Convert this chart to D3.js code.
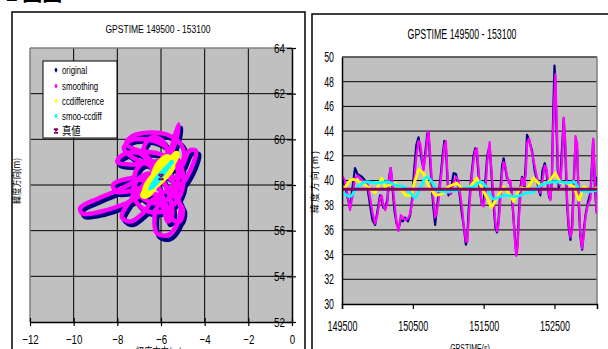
<!DOCTYPE html>
<html><head><meta charset="utf-8">
<script src="https://cdn.jsdelivr.net/npm/d3@7"></script>
<style>
html,body{margin:0;padding:0;background:#fff;overflow:hidden}
svg{display:block}
text{font-family:"Liberation Sans",Arial,sans-serif;fill:#000}
.cjk{font-family:"Noto Sans CJK JP","Noto Sans CJK SC",sans-serif}
</style></head>
<body>
<svg id="c" width="608" height="349"></svg>
<script>
// ---------------- DATA ----------------
const chartTitle = "GPSTIME 149500 - 153100";
const seriesNames = ["original", "smoothing", "ccdifference", "smoo-ccdiff", "真値"];
const seriesColors = ["#000080", "#ff00ff", "#ffff00", "#00ffff", "#800060"];

// Left chart (scatter: longitude-direction x, latitude-direction y)
const xTicksLeft = [-12, -10, -8, -6, -4, -2, 0];
const yTicksLeft = [52, 54, 56, 58, 60, 62, 64];
const originalPts = [
 [-5.88,58.25],[-6.38,58.95],[-6.98,58.55],[-7.08,57.85],[-6.7,57.25],[-5.88,57.05],[-5.28,57.55],[-5.06,58.35],
 [-5.38,58.95],[-6.08,59.25],[-6.88,59.35],[-7.5,59.65],[-7.18,60.0],[-6.38,60.15],[-5.58,60.05],[-4.96,59.65],
 [-4.82,59.05],[-5.18,58.65],[-5.88,58.55],[-6.78,58.15],[-7.78,57.65],[-8.78,57.25],[-9.58,56.85],[-9.48,56.6],
 [-8.58,56.7],[-7.48,57.05],[-6.58,57.45],[-5.98,57.35],[-6.18,56.45],[-6.08,55.72],[-5.58,55.62],[-5.16,56.05],
 [-4.96,56.85],[-5.18,57.55],[-4.78,58.05],[-4.36,58.85],[-4.26,59.35],[-4.58,59.35],[-4.88,58.75],[-5.28,58.15],
 [-5.58,58.65],[-5.38,59.55],[-5.08,60.5],[-5.18,59.85],[-5.58,59.05],[-6.38,58.85],[-7.28,58.75],[-7.88,58.85],
 [-7.68,59.15],[-6.88,59.25],[-6.28,58.45],[-6.78,57.75],[-7.38,57.05],[-7.68,56.45],[-7.28,56.25],[-6.68,56.65],
 [-6.18,57.25],[-5.78,56.85],[-5.58,56.25],[-5.38,56.45],[-5.48,57.35],[-5.78,58.05],[-5.9,58.28],
 [-6.5,58.78],[-7.2,59.08],[-7.6,59.48],[-7.3,59.83],[-6.6,59.88],[-5.9,59.68],[-5.3,59.18],[-4.9,58.38],
 [-5.0,57.48],[-5.5,56.88],[-6.3,56.68],[-6.9,56.98],[-7.2,57.58],[-6.9,58.18],[-6.3,58.38],
 [-5.7,57.88],[-5.2,57.28],[-4.9,56.78],[-5.05,56.28],[-5.4,56.38],[-5.7,57.08],[-6.0,57.78],
 [-6.3,58.78],[-6.7,59.48],[-6.3,59.98],[-5.8,59.78],[-5.6,59.18],[-5.8,58.58],
 [-6.5,58.08],[-7.3,58.18],[-8.1,57.88],[-7.9,57.58],[-7.1,57.68],[-6.3,57.98],
 [-5.7,58.28],[-5.3,57.88],[-5.8,57.58],[-6.2,58.08],[-5.9,58.28]
];
const smoothingPts = [
 [-6.0,58.4],[-6.5,59.1],[-7.1,58.7],[-7.2,58.0],[-6.8,57.4],[-6.0,57.2],[-5.4,57.7],[-5.2,58.5],
 [-5.5,59.1],[-6.2,59.4],[-7.0,59.5],[-7.6,59.8],[-7.3,60.15],[-6.5,60.3],[-5.7,60.2],[-5.1,59.8],
 [-4.95,59.2],[-5.3,58.8],[-6.0,58.7],[-6.9,58.3],[-7.9,57.8],[-8.9,57.4],[-9.7,57.0],[-9.6,56.75],
 [-8.7,56.85],[-7.6,57.2],[-6.7,57.6],[-6.1,57.5],[-6.3,56.6],[-6.2,55.9],[-5.7,55.8],[-5.3,56.2],
 [-5.1,57.0],[-5.3,57.7],[-4.9,58.2],[-4.5,59.0],[-4.4,59.5],[-4.7,59.5],[-5.0,58.9],[-5.4,58.3],
 [-5.7,58.8],[-5.5,59.7],[-5.2,60.65],[-5.3,60.0],[-5.7,59.2],[-6.5,59.0],[-7.4,58.9],[-8.0,59.0],
 [-7.8,59.3],[-7.0,59.4],[-6.4,58.6],[-6.9,57.9],[-7.5,57.2],[-7.8,56.6],[-7.4,56.4],[-6.8,56.8],
 [-6.3,57.4],[-5.9,57.0],[-5.7,56.4],[-5.5,56.6],[-5.6,57.5],[-5.9,58.2],[-6.0,58.4],
 [-6.6,58.9],[-7.3,59.2],[-7.7,59.6],[-7.4,59.95],[-6.7,60.0],[-6.0,59.8],[-5.4,59.3],[-5.0,58.5],
 [-5.1,57.6],[-5.6,57.0],[-6.4,56.8],[-7.0,57.1],[-7.3,57.7],[-7.0,58.3],[-6.4,58.5],
 [-5.8,58.0],[-5.3,57.4],[-5.0,56.9],[-5.15,56.4],[-5.5,56.5],[-5.8,57.2],[-6.1,57.9],
 [-6.4,58.9],[-6.8,59.6],[-6.4,60.1],[-5.9,59.9],[-5.7,59.3],[-5.9,58.7],
 [-6.6,58.2],[-7.4,58.3],[-8.2,58.0],[-8.0,57.7],[-7.2,57.8],[-6.4,58.1],
 [-5.8,58.4],[-5.4,58.0],[-5.9,57.7],[-6.3,58.2],[-6.0,58.4]
];
const ccdiffPts = [
 [-6.0,58.4],[-6.5,58.0],[-6.8,57.55],[-6.6,57.6],[-6.2,58.1],[-5.8,58.6],[-5.4,59.1],[-5.3,59.35],
 [-5.6,59.0],[-6.0,58.6],[-6.4,58.3],[-6.7,57.8],[-6.4,57.9],[-5.9,58.3],[-5.5,58.8],[-5.7,59.2],
 [-6.1,58.9],[-6.3,58.5]
];
const smooCcdiffPts = [
 [-6.0,58.4],[-6.3,58.1],[-6.5,57.85],[-6.3,58.0],[-5.9,58.5],[-5.6,58.9],[-5.5,59.0],[-5.7,58.8],
 [-6.1,58.4],[-6.4,58.0]
];
const truePt = [-6.0, 58.35];

// Right chart (time series of latitude direction)
const xTicksRight = [149500, 150500, 151500, 152500];
const yTicksRight = [30, 32, 34, 36, 38, 40, 42, 44, 46, 48, 50];
const times = [149500,149540,149580,149613,149650,149684,149720,149780,149825,149860,149896,149930,149967,150000,150037,150060,150084,150110,150141,150165,150188,150210,150240,150270,150297,150330,150360,150391,150430,150462,150490,150520,150550,150580,150605,150627,150650,150680,150705,150721,150745,150768,150790,150815,150840,150862,150890,150920,150945,150966,150985,151004,151040,151075,151110,151145,151169,151195,151216,151249,151270,151287,151320,151357,151380,151404,151440,151475,151500,151522,151550,151584,151610,151640,151665,151688,151710,151735,151760,151782,151805,151829,151855,151876,151895,151914,151940,151961,151980,151994,152020,152041,152060,152074,152095,152112,152140,152183,152220,152253,152280,152300,152330,152362,152385,152404,152425,152442,152462,152480,152500,152512,152530,152545,152560,152580,152605,152630,152655,152678,152700,152725,152750,152772,152796,152820,152843,152865,152890,152915,152937,152970,153008,153030,153046,153070,153093,153100];
const originalY = [40.0,39.6,38.6,37.8,39.5,41.0,40.5,40.3,40.0,39.4,38.0,36.8,36.4,37.5,38.8,38.4,37.8,37.7,38.5,40.3,41.0,39.6,37.6,36.5,36.1,36.8,36.7,37.0,36.7,37.2,38.5,41.0,42.9,43.5,42.5,41.6,41.0,42.5,43.8,43.9,41.5,39.5,37.8,36.4,37.8,38.8,40.2,42.0,43.2,42.8,40.5,38.8,39.4,40.6,40.5,39.5,38.5,37.2,36.4,34.8,35.5,37.5,40.0,42.0,42.6,42.2,39.5,38.0,38.2,39.8,42.0,42.8,40.5,38.0,36.2,35.8,36.8,39.0,41.2,41.8,41.0,40.2,40.0,39.8,39.0,37.5,35.5,34.0,35.0,37.0,39.5,40.3,40.0,39.4,41.5,43.7,43.3,42.4,40.8,40.0,39.2,38.8,40.8,41.4,40.8,39.6,38.6,38.5,40.0,45.0,49.3,48.0,44.0,41.0,39.4,40.0,42.5,45.0,42.0,38.0,36.2,35.2,36.5,40.0,43.0,42.5,38.0,35.5,34.4,36.0,37.2,38.2,39.0,41.5,43.3,39.5,37.5,40.3];
const smoothingY = [40.4,40.0,38.8,37.6,38.8,40.2,40.4,40.0,39.9,39.8,38.6,37.4,36.5,37.2,38.6,38.8,38.0,37.6,38.2,40.0,41.0,39.9,38.2,36.6,35.9,37.2,37.0,36.8,36.9,37.3,38.2,40.0,42.0,43.2,43.0,42.0,40.8,42.0,43.5,44.0,42.2,40.0,38.5,37.0,37.5,38.3,39.8,41.5,42.8,43.2,41.0,39.0,38.9,39.8,40.3,40.0,38.9,37.8,36.5,35.1,35.0,36.8,39.6,41.6,42.4,42.6,40.0,38.0,37.9,38.8,41.5,43.1,40.8,38.6,36.6,35.9,36.4,38.4,40.6,41.5,41.2,40.4,39.8,40.0,39.2,37.8,35.2,33.9,34.6,36.6,38.8,40.2,40.0,39.6,40.5,43.0,43.4,42.2,41.2,40.2,39.6,39.0,40.0,41.2,41.0,40.2,38.8,38.4,39.8,44.0,47.0,48.6,45.0,41.8,39.8,39.6,41.5,45.1,43.0,38.5,36.5,35.4,36.0,39.2,43.6,43.0,38.6,35.8,34.5,35.6,37.0,38.0,38.5,41.0,43.4,40.5,37.4,38.0];
const ccTimes = [149500,149560,149613,149660,149750,149820,149896,149967,150060,150110,150250,150300,150400,150490,150510,150580,150650,150720,150815,150910,151000,151120,151216,151310,151404,151475,151546,151610,151688,151782,151876,151923,152018,152112,152206,152300,152420,152512,152583,152678,152772,152843,152914,153008,153100];
const ccdiffY = [39.0,39.6,40.0,40.1,39.9,39.7,39.3,39.0,40.2,39.5,39.8,39.5,38.8,38.8,39.6,40.9,40.6,39.6,38.8,38.9,39.5,39.8,39.2,39.5,40.2,39.4,38.6,37.8,38.6,39.5,38.8,38.3,39.4,39.3,40.2,39.6,39.9,40.6,39.8,39.8,39.5,38.4,39.5,39.2,39.4];
const scTimes = [149500,149613,149707,149849,149990,150132,150273,150367,150462,150533,150603,150698,150768,150839,150980,151122,151263,151357,151452,151546,151640,151735,151829,151923,152018,152112,152206,152300,152395,152489,152583,152678,152772,152867,152961,153100];
const smooCcdiffY = [39.1,38.7,39.4,39.9,39.8,39.9,39.6,39.5,39.0,38.6,39.4,40.3,39.9,39.2,39.1,39.2,39.4,39.5,39.9,39.4,38.5,38.7,38.8,38.7,38.8,39.0,39.1,39.6,39.8,39.9,39.9,39.8,39.9,39.2,39.1,39.2];
const trueValueY = 39.3;

// ---------------- DRAW ----------------
const svg = d3.select("#c");
function squish(sel, f){
  sel.each(function(){
    const w = this.getComputedTextLength();
    if (w > 0){ this.setAttribute("textLength", (w*f).toFixed(1)); this.setAttribute("lengthAdjust","spacingAndGlyphs"); }
  });
}

// heading fragment at top-left (clipped by the window)
svg.append("text").attr("class","cjk").attr("x",6).attr("y",1)
  .style("font-size","20px").style("font-weight","bold").text("2 図図");

// ===== LEFT CHART =====
svg.append("rect").attr("x",12).attr("y",12).attr("width",293).attr("height",360)
  .attr("fill","#fff").attr("stroke","#000").attr("stroke-width",1.5);
const lt = svg.append("text").attr("x",158).attr("y",33).attr("text-anchor","middle")
  .style("font-size","11.5px").text(chartTitle);
squish(lt, 0.74);

const xL = d3.scaleLinear().domain([-12,0]).range([30,292]);
const yL = d3.scaleLinear().domain([52,64]).range([322,48]);
const gL = svg.append("g");
gL.append("rect").attr("x",xL(-12)).attr("y",yL(64)).attr("width",xL(0)-xL(-12)).attr("height",yL(52)-yL(64))
  .attr("fill","#c0c0c0");
gL.selectAll(".vg").data(xTicksLeft.slice(1,-1)).join("line")
  .attr("x1",d=>xL(d)).attr("x2",d=>xL(d)).attr("y1",yL(64)).attr("y2",yL(52)).attr("stroke","#000").attr("stroke-width",1);
gL.selectAll(".hg").data(yTicksLeft.slice(1,-1)).join("line")
  .attr("x1",xL(-12)).attr("x2",xL(0)).attr("y1",d=>yL(d)).attr("y2",d=>yL(d)).attr("stroke","#000").attr("stroke-width",1);
gL.append("line").attr("x1",xL(-12)).attr("x2",xL(-12)).attr("y1",yL(64)).attr("y2",yL(52)).attr("stroke","#808080").attr("stroke-width",1.5);
gL.append("line").attr("x1",xL(-12)).attr("x2",xL(0)).attr("y1",yL(64)).attr("y2",yL(64)).attr("stroke","#808080").attr("stroke-width",1.5);

svg.append("clipPath").attr("id","clipL").append("rect")
  .attr("x",xL(-12)).attr("y",yL(64)).attr("width",xL(0)-xL(-12)).attr("height",yL(52)-yL(64));
const lineL = d3.line().x(d=>xL(d[0])).y(d=>yL(d[1])).curve(d3.curveCatmullRom.alpha(0.5));
const dL = gL.append("g").attr("clip-path","url(#clipL)");
dL.append("path").datum(originalPts).attr("d",lineL).attr("fill","none").attr("stroke",seriesColors[0]).attr("stroke-width",4.5).attr("stroke-linejoin","round");
dL.append("path").datum(smoothingPts).attr("d",lineL).attr("fill","none").attr("stroke",seriesColors[1]).attr("stroke-width",4.5).attr("stroke-linejoin","round");
dL.append("path").datum(ccdiffPts).attr("d",lineL).attr("fill","none").attr("stroke",seriesColors[2]).attr("stroke-width",7).attr("stroke-linejoin","round").attr("stroke-linecap","round");
dL.append("path").datum(smooCcdiffPts).attr("d",lineL).attr("fill","none").attr("stroke",seriesColors[3]).attr("stroke-width",4.5).attr("stroke-linejoin","round").attr("stroke-linecap","round");
function starMark(g, cx, cy, s, col){
  const p = `M${cx-s},${cy-s}L${cx+s},${cy+s}M${cx+s},${cy-s}L${cx-s},${cy+s}M${cx-s},${cy-s}L${cx+s},${cy-s}M${cx-s},${cy+s}L${cx+s},${cy+s}`;
  g.append("path").attr("d",p).attr("stroke",col).attr("stroke-width",1.3).attr("fill","none");
}
starMark(dL, xL(truePt[0]), yL(truePt[1]), 2.5, seriesColors[4]);

const axYL = d3.axisLeft(yL).tickValues(yTicksLeft).tickSize(0).tickPadding(7);
const gyL = gL.append("g").attr("transform",`translate(${xL(0)},0)`).call(axYL);
gyL.select(".domain").attr("stroke","#000").attr("stroke-width",1.5);
gyL.selectAll(".tick").append("line").attr("x1",-5).attr("x2",4).attr("stroke","#000").attr("stroke-width",1.2);
gyL.selectAll("text").style("font-size","13px");
squish(gyL.selectAll("text"), 0.76);
const axXL = d3.axisBottom(xL).tickValues(xTicksLeft).tickSize(0).tickPadding(13);
const gxL = gL.append("g").attr("transform",`translate(0,${yL(52)})`).call(axXL);
gxL.select(".domain").attr("stroke","#000").attr("stroke-width",1.5);
gxL.selectAll(".tick").append("line").attr("y1",-4).attr("y2",4).attr("stroke","#000").attr("stroke-width",1.2);
gxL.selectAll("text").style("font-size","13px");
squish(gxL.selectAll("text"), 0.75);
const ytL = svg.append("text").attr("class","cjk").attr("transform","translate(20,181) rotate(-90)")
  .attr("text-anchor","middle").style("font-size","9.5px").text("緯度方向(m)");
ytL.attr("textLength",46).attr("lengthAdjust","spacingAndGlyphs");
const xtL = svg.append("text").attr("class","cjk").attr("x",159).attr("y",356)
  .attr("text-anchor","middle").style("font-size","11px").text("経度方向(m)");
squish(xtL, 0.75);

// legend
const lg = svg.append("g");
lg.append("rect").attr("x",43).attr("y",61).attr("width",74).attr("height",77).attr("fill","#fff").attr("stroke","#000").attr("stroke-width",1);
const legY = [70, 86, 101, 116, 131];
seriesNames.forEach((n,i)=>{
  const cy = legY[i];
  if (i < 4){
    lg.append("path").attr("transform",`translate(56,${cy})`)
      .attr("d", d3.symbol(d3.symbolDiamond, 9)()).attr("fill", seriesColors[i]);
  } else {
    starMark(lg, 56, cy, 2, seriesColors[4]);
  }
  const t = lg.append("text").attr("x",62).attr("y",cy+4).style("font-size", i===4 ? "11px":"11.5px")
    .attr("class", i===4 ? "cjk" : null).text(n);
  squish(t, i===4 ? 0.85 : 0.68);
});

// ===== RIGHT CHART =====
svg.append("rect").attr("x",312).attr("y",14).attr("width",320).attr("height",360)
  .attr("fill","#fff").attr("stroke","#000").attr("stroke-width",1.5);
const rt = svg.append("text").attr("x",462).attr("y",39).attr("text-anchor","middle")
  .style("font-size","14px").text(chartTitle);
squish(rt, 0.63);

const xR = d3.scaleLinear().domain([149500,153100]).range([342,597]);
const yR = d3.scaleLinear().domain([30,50]).range([304,57]);
const gR = svg.append("g");
gR.append("rect").attr("x",xR(149500)).attr("y",yR(50)).attr("width",xR(153100)-xR(149500)).attr("height",yR(30)-yR(50))
  .attr("fill","#c0c0c0");
gR.selectAll(".hg").data(yTicksRight.slice(1)).join("line")
  .attr("x1",xR(149500)).attr("x2",xR(153100)).attr("y1",d=>yR(d)).attr("y2",d=>yR(d)).attr("stroke","#000").attr("stroke-width",1);
gR.append("line").attr("x1",xR(153100)).attr("x2",xR(153100)).attr("y1",yR(50)).attr("y2",yR(30)).attr("stroke","#808080").attr("stroke-width",1.5);
gR.append("line").attr("x1",xR(149500)).attr("x2",xR(153100)).attr("y1",yR(50)).attr("y2",yR(50)).attr("stroke","#606060").attr("stroke-width",1.5);

svg.append("clipPath").attr("id","clipR").append("rect")
  .attr("x",xR(149500)).attr("y",yR(50)).attr("width",xR(153100)-xR(149500)).attr("height",yR(30)-yR(50));
const dR = gR.append("g").attr("clip-path","url(#clipR)");
const lineR = d3.line().x(d=>xR(d[0])).y(d=>yR(d[1]));
dR.append("path").datum(d3.zip(times, originalY)).attr("d",lineR).attr("fill","none").attr("stroke",seriesColors[0]).attr("stroke-width",2.2).attr("stroke-linejoin","round");
dR.append("path").datum(d3.zip(times, smoothingY)).attr("d",lineR).attr("fill","none").attr("stroke",seriesColors[1]).attr("stroke-width",2.2).attr("stroke-linejoin","round");
dR.append("path").datum(d3.zip(ccTimes, ccdiffY)).attr("d",lineR).attr("fill","none").attr("stroke",seriesColors[2]).attr("stroke-width",2.8).attr("stroke-linejoin","round");
dR.append("path").datum(d3.zip(scTimes, smooCcdiffY)).attr("d",d3.line().x(d=>xR(d[0])).y(d=>yR(d[1])).curve(d3.curveMonotoneX)).attr("fill","none").attr("stroke",seriesColors[3]).attr("stroke-width",2.8).attr("stroke-linejoin","round");
dR.append("line").attr("x1",xR(149500)).attr("x2",xR(153100)).attr("y1",yR(trueValueY)).attr("y2",yR(trueValueY))
  .attr("stroke",seriesColors[4]).attr("stroke-width",3);

const axYR = d3.axisLeft(yR).tickValues(yTicksRight).tickSize(0).tickPadding(8);
const gyR = gR.append("g").attr("transform",`translate(${xR(149500)},0)`).call(axYR);
gyR.select(".domain").attr("stroke","#000").attr("stroke-width",1.5);
gyR.selectAll("text").style("font-size","14px");
squish(gyR.selectAll("text"), 0.63);
const axXR = d3.axisBottom(xR).tickValues(xTicksRight).tickSize(5).tickPadding(11).tickFormat(d3.format("d"));
const gxR = gR.append("g").attr("transform",`translate(0,${yR(30)})`).call(axXR);
gxR.select(".domain").attr("stroke","#000").attr("stroke-width",1.5);
gxR.selectAll(".tick line").attr("stroke","#000").attr("stroke-width",1.2);
gxR.selectAll("text").style("font-size","15px");
squish(gxR.selectAll("text"), 0.6);
const ytR = svg.append("text").attr("class","cjk").attr("transform","translate(318,182) rotate(-90)")
  .attr("text-anchor","middle").style("font-size","9px").text("緯度方向(m)");
ytR.attr("textLength",62).attr("lengthAdjust","spacing");
const xtR = svg.append("text").attr("x",470).attr("y",352).attr("text-anchor","middle")
  .style("font-size","10px").text("GPSTIME(s)");
squish(xtR, 0.7);
</script>
</body></html>
